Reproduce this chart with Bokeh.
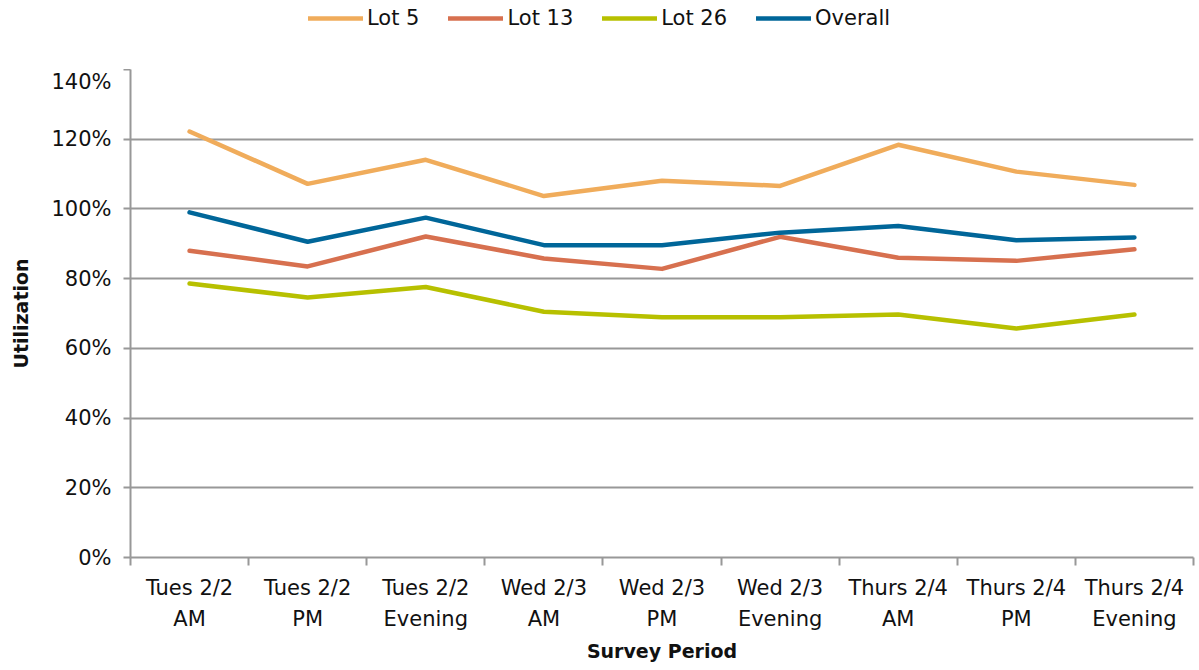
from bokeh.plotting import figure
from bokeh.layouts import column
from bokeh.models import FixedTicker, Legend, LegendItem, NumeralTickFormatter, Range1d, ColumnDataSource
from bokeh.embed import file_html
from bokeh.resources import INLINE

periods = ["Tues 2/2\nAM", "Tues 2/2\nPM", "Tues 2/2\nEvening",
           "Wed 2/3\nAM", "Wed 2/3\nPM", "Wed 2/3\nEvening",
           "Thurs 2/4\nAM", "Thurs 2/4\nPM", "Thurs 2/4\nEvening"]
lot5 = [1.222, 1.072, 1.141, 1.037, 1.081, 1.066, 1.184, 1.107, 1.069]
lot13 = [0.880, 0.835, 0.921, 0.858, 0.828, 0.920, 0.860, 0.851, 0.884]
lot26 = [0.786, 0.746, 0.776, 0.705, 0.689, 0.689, 0.697, 0.657, 0.697]
overall = [0.990, 0.906, 0.975, 0.896, 0.896, 0.932, 0.951, 0.910, 0.918]
y_ticks = [0, 0.2, 0.4, 0.6, 0.8, 1.0, 1.2, 1.4]

names = ["Lot 5", "Lot 13", "Lot 26", "Overall"]
colors = ["#F0AC5B", "#D7704F", "#B7C000", "#006699"]
series = [lot5, lot13, lot26, overall]

FONT = "DejaVu Sans"
GRID = "#989898"
TXT = "#111111"
LW = 4.5

xs = [i + 0.5 for i in range(len(periods))]
sources = [ColumnDataSource(dict(x=xs, y=vals)) for vals in series]

# ---------- legend strip (its own ranges keep the series out of view) ----------
LEG_H = 69
leg = figure(width=1199, height=LEG_H, output_backend="svg", toolbar_location=None,
             x_axis_location=None, y_axis_location=None,
             x_range=Range1d(0, 9), y_range=Range1d(5, 6),
             min_border_left=0, min_border_right=0, min_border_top=0, min_border_bottom=0)
leg.grid.visible = False
leg.outline_line_color = None
items = []
for name, col, src in zip(names, colors, sources):
    r = leg.line("x", "y", source=src, line_color=col, line_width=LW, line_cap="round")
    items.append(LegendItem(label=name, renderers=[r]))
legend = Legend(items=items, orientation="horizontal", location=(178, LEG_H - 30),
                label_text_font=FONT, label_text_font_size="21px", label_text_color=TXT,
                glyph_width=55, glyph_height=24, spacing=29, label_standoff=4,
                border_line_color=None, background_fill_alpha=0, padding=0, margin=0)
leg.add_layout(legend, "center")

# ---------- main chart ----------
p = figure(width=1199, height=670 - LEG_H, output_backend="svg", toolbar_location=None,
           x_range=Range1d(0, len(periods)), y_range=Range1d(0, 1.4),
           min_border_left=130, min_border_right=6, min_border_bottom=113, min_border_top=0)
p.outline_line_color = None

for col, src in zip(colors, sources):
    p.line("x", "y", source=src, line_color=col, line_width=LW, line_cap="round", line_join="round")

# y axis
p.yaxis.ticker = FixedTicker(ticks=y_ticks)
p.yaxis.formatter = NumeralTickFormatter(format="0%")
p.yaxis.axis_label = "Utilization"
p.yaxis.axis_label_text_font = FONT
p.yaxis.axis_label_text_font_style = "bold"
p.yaxis.axis_label_text_font_size = "19px"
p.yaxis.axis_label_text_color = TXT
p.yaxis.axis_label_standoff = 16
p.yaxis.major_label_text_font = FONT
p.yaxis.major_label_text_font_size = "21px"
p.yaxis.major_label_text_color = TXT
p.yaxis.axis_line_color = GRID
p.yaxis.axis_line_width = 2
p.yaxis.major_tick_line_color = GRID
p.yaxis.major_tick_line_width = 2
p.yaxis.major_tick_out = 7
p.yaxis.major_tick_in = 0
p.yaxis.minor_tick_line_color = None
p.yaxis.major_label_standoff = 12

# x axis
p.xaxis.ticker = FixedTicker(ticks=xs, minor_ticks=list(range(len(periods) + 1)))
p.xaxis.major_label_overrides = {x: lab for x, lab in zip(xs, periods)}
p.xaxis.axis_label = "Survey Period"
p.xaxis.axis_label_text_font = FONT
p.xaxis.axis_label_text_font_style = "bold"
p.xaxis.axis_label_text_font_size = "19px"
p.xaxis.axis_label_text_color = TXT
p.xaxis.major_label_text_font = FONT
p.xaxis.major_label_text_font_size = "21px"
p.xaxis.major_label_text_color = TXT
p.xaxis.major_label_text_line_height = 1.3
p.xaxis.axis_line_color = GRID
p.xaxis.axis_line_width = 2
p.xaxis.major_tick_line_color = None
p.xaxis.major_tick_out = 0
p.xaxis.major_tick_in = 0
p.xaxis.minor_tick_line_color = GRID
p.xaxis.minor_tick_line_width = 2
p.xaxis.minor_tick_out = 8
p.xaxis.minor_tick_in = 0
p.xaxis.major_label_standoff = 10
p.xaxis.axis_label_standoff = 6

p.xgrid.grid_line_color = None
p.ygrid.ticker = FixedTicker(ticks=y_ticks)
p.ygrid.grid_line_color = GRID
p.ygrid.grid_line_width = 2

layout = column(leg, p, spacing=0)
open("out.html", "w").write(file_html(layout, INLINE))
